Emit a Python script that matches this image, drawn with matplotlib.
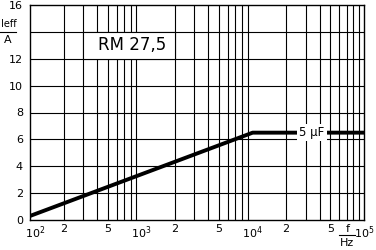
import numpy as np
import matplotlib
matplotlib.use("Agg")
import matplotlib.pyplot as plt
from matplotlib.patches import Rectangle
import matplotlib.transforms as mtransforms

plt.rcParams['font.family'] = 'DejaVu Sans'
plt.rcParams['mathtext.default'] = 'regular'

# curve for 5 uF, RM 27,5
freq = [1e2, 1e4, 1e5]
ieff = [0.3, 6.5, 6.5]

x_ticks = [1e2, 2e2, 5e2, 1e3, 2e3, 5e3, 1e4, 2e4, 5e4, 1e5]
x_labels = ['$10^2$', '2', '5', '$10^3$', '2', '5', '$10^4$', '2', '5', '$10^5$']
y_ticks = [0, 2, 4, 6, 8, 10, 12, 16]

fig = plt.figure(figsize=(3.76, 2.5), dpi=100)
ax = fig.add_axes([30 / 376, 30 / 250, 334 / 376, 215 / 250])
ax.set_xscale('log')
ax.set_xlim(1e2, 1e5)
ax.set_ylim(0, 16)

# grid lines: every integer multiple in each decade, every 2 on y
for dec in [1e2, 1e3, 1e4]:
    for m in range(2, 10):
        ax.axvline(dec * m, color='black', lw=0.8, zorder=1)
for yv in range(2, 16, 2):
    ax.axhline(yv, color='black', lw=0.8, zorder=1)

# white label box
ax.add_patch(Rectangle((3e2, 12), 2e3 - 3e2, 2, facecolor='white',
                       edgecolor='black', lw=0.8, zorder=2))
ax.text(8.3e2, 13, 'RM 27,5', ha='center', va='center', fontsize=12, zorder=3)

ax.plot(freq, ieff, color='black', lw=2.8, solid_capstyle='butt', zorder=4)
ax.text(3.4e4, 6.5, '5 µF', ha='center', va='center', fontsize=8.5, zorder=5,
        bbox=dict(facecolor='white', edgecolor='none', pad=1.5))

ax.set_xticks(x_ticks)
ax.set_xticklabels(x_labels)
ax.xaxis.set_minor_locator(matplotlib.ticker.NullLocator())
ax.set_yticks(y_ticks)
ax.tick_params(length=0, labelsize=8)
ax.tick_params(axis='x', pad=3)
ax.tick_params(axis='y', pad=5)
for s in ax.spines.values():
    s.set_linewidth(1.0)

# first x label sits a bit right of the corner
first = ax.get_xticklabels()[0]
first.set_transform(first.get_transform() + mtransforms.ScaledTranslation(5 / 100, 0, fig.dpi_scale_trans))

# axis unit labels
tr = mtransforms.blended_transform_factory(ax.transAxes, ax.transData)
ax.text(-0.062, 14.6, 'Ieff', transform=tr, ha='center', va='center', fontsize=7)
ax.plot([-0.09, -0.042], [14.0, 14.0], transform=tr, color='black', lw=0.8, clip_on=False)
ax.text(-0.066, 13.4, 'A', transform=tr, ha='center', va='center', fontsize=8)

trx = mtransforms.blended_transform_factory(ax.transData, ax.transAxes)
ax.text(7.1e4, -0.04, 'f', transform=trx, ha='center', va='center', fontsize=8)
ax.plot([6.0e4, 8.3e4], [-0.07, -0.07], transform=trx, color='black', lw=0.8, clip_on=False)
ax.text(7.1e4, -0.105, 'Hz', transform=trx, ha='center', va='center', fontsize=8)

fig.savefig('out.png', dpi=100)
